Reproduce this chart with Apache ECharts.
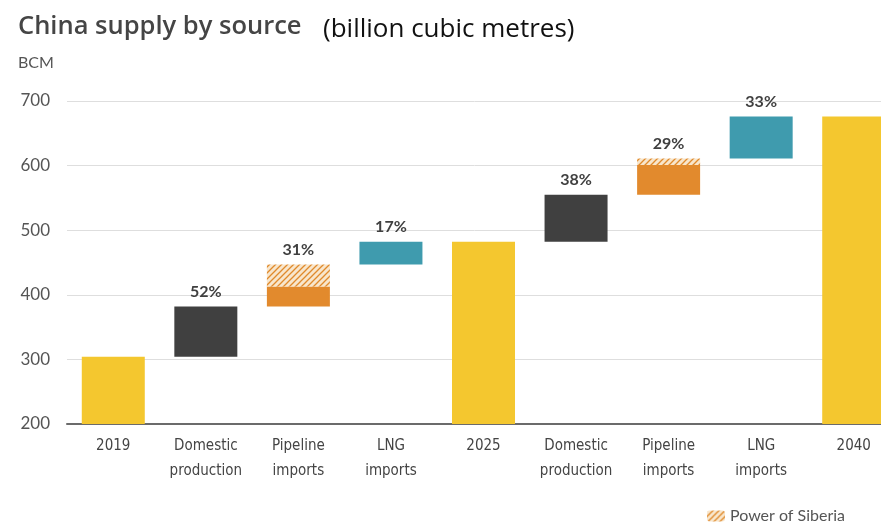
<!DOCTYPE html>
<html>
<head>
<meta charset="utf-8">
<script src="https://cdn.jsdelivr.net/npm/echarts@6/dist/echarts.min.js"></script>
<style>
  html, body { margin: 0; padding: 0; background: #fff; }
  #chart { width: 881px; height: 523px; }
</style>
</head>
<body>
<div id="chart"></div>
<script>
// China gas supply waterfall, BCM
const categories = ['2019', 'Domestic\nproduction', 'Pipeline\nimports', 'LNG\nimports', '2025',
                    'Domestic\nproduction', 'Pipeline\nimports', 'LNG\nimports', '2040'];
const totals         = [304, null, null, null, 482, null, null, null, 676];
const domestic       = [null, 78, null, null, null, 73, null, null, null];
const pipeline       = [null, null, 31, null, null, null, 46, null, null];
const powerOfSiberia = [null, null, 34, null, null, null, 10, null, null];
const lng            = [null, null, null, 35, null, null, null, 65, null];
const shareLabels    = ['', '52%', '31%', '17%', '', '38%', '29%', '33%', ''];
const yTicks = [200, 300, 400, 500, 600, 700];

// invisible offset under each floating step = running total before it
const steps = [domestic, pipeline, powerOfSiberia, lng];
const base = [];
let running = 0;
categories.forEach((c, i) => {
  if (totals[i] != null) { base.push(null); running = totals[i]; return; }
  base.push(running);
  steps.forEach(s => { if (s[i] != null) running += s[i]; });
});

// diagonal hatch for the Power of Siberia tranche
function hatch() {
  const size = 6;
  const cv = document.createElement('canvas');
  cv.width = size; cv.height = size;
  const ctx = cv.getContext('2d');
  ctx.fillStyle = '#f8e6cc';
  ctx.fillRect(0, 0, size, size);
  ctx.strokeStyle = '#e08a2c';
  ctx.lineWidth = 1.3;
  ctx.beginPath();
  ctx.moveTo(0, size); ctx.lineTo(size, 0);
  ctx.moveTo(-size / 2, size / 2); ctx.lineTo(size / 2, -size / 2);
  ctx.moveTo(size / 2, size * 1.5); ctx.lineTo(size * 1.5, size / 2);
  ctx.stroke();
  return { image: cv, repeat: 'repeat' };
}
const hatchFill = hatch();

// the share label sits on the top segment of each step column
function topOf(i) {
  if (powerOfSiberia[i] != null) return 'pos';
  if (pipeline[i] != null) return 'pipe';
  if (domestic[i] != null) return 'dom';
  if (lng[i] != null) return 'lng';
  return null;
}
function withLabels(arr, key) {
  return arr.map((v, i) => {
    if (v == null) return '-';
    if (topOf(i) === key && shareLabels[i]) {
      return { value: v, label: { show: true, formatter: shareLabels[i] } };
    }
    return v;
  });
}

const labelStyle = {
  position: 'top', distance: 7, color: '#404040',
  fontFamily: 'Lato', fontWeight: 'bold', fontSize: 16
};
const barW = 63;
const narrow = '"DejaVu Sans Condensed", "Liberation Sans Narrow", "Roboto Condensed", Lato, sans-serif';

const chart = echarts.init(document.getElementById('chart'), null, { renderer: 'canvas' });
chart.setOption({
  animation: false,
  grid: { left: 67, top: 101, width: 833, bottom: 99, containLabel: false, outerBoundsMode: 'none' },
  legend: {
    data: ['Power of Siberia'],
    left: 702, top: 503,
    itemWidth: 18, itemHeight: 11, itemGap: 8,
    textStyle: { color: '#555', fontFamily: 'Lato', fontSize: 16 },
    selectedMode: false
  },
  graphic: [
    { type: 'text', left: 18, top: 14,
      style: { text: 'China supply by source', fontFamily: 'Open Sans', fontWeight: 600,
               fontSize: 25.5, fill: '#454545' } },
    { type: 'text', left: 323, top: 17,
      style: { text: '(billion cubic metres)', fontFamily: 'Open Sans',
               fontSize: 26, fill: '#111' } },
    { type: 'text', left: 18, top: 55,
      style: { text: 'BCM', fontFamily: 'Lato', fontSize: 16, fill: '#555' } }
  ],
  xAxis: {
    type: 'category',
    data: categories,
    axisLine: { show: true, lineStyle: { color: '#6b6b6b', width: 2 } },
    axisTick: { show: false },
    axisLabel: {
      interval: 0, margin: 10, color: '#444', lineHeight: 25,
      fontFamily: narrow, fontSize: 15
    }
  },
  yAxis: {
    type: 'value',
    min: yTicks[0], max: yTicks[yTicks.length - 1], interval: 100,
    axisLine: { show: false },
    axisTick: { show: false },
    axisLabel: { margin: 17, color: '#555', fontFamily: 'Lato', fontSize: 17 },
    splitLine: { lineStyle: { color: '#dedede', width: 1 } }
  },
  series: [
    { name: 'offset', type: 'bar', stack: 'w', barWidth: barW,
      itemStyle: { color: 'transparent' }, silent: true,
      data: base.map(v => v == null ? '-' : v) },
    { name: 'Total', type: 'bar', stack: 'w', barWidth: barW,
      itemStyle: { color: '#f4c72f' },
      data: totals.map(v => v == null ? '-' : v) },
    { name: 'Domestic production', type: 'bar', stack: 'w', barWidth: barW,
      itemStyle: { color: '#404040' }, label: labelStyle,
      data: withLabels(domestic, 'dom') },
    { name: 'Pipeline imports', type: 'bar', stack: 'w', barWidth: barW,
      itemStyle: { color: '#e28a2d' }, label: labelStyle,
      data: withLabels(pipeline, 'pipe') },
    { name: 'Power of Siberia', type: 'bar', stack: 'w', barWidth: barW,
      itemStyle: { color: hatchFill }, label: labelStyle,
      data: withLabels(powerOfSiberia, 'pos') },
    { name: 'LNG imports', type: 'bar', stack: 'w', barWidth: barW,
      itemStyle: { color: '#3f9bae' }, label: labelStyle,
      data: withLabels(lng, 'lng') }
  ]
});
</script>
</body>
</html>
